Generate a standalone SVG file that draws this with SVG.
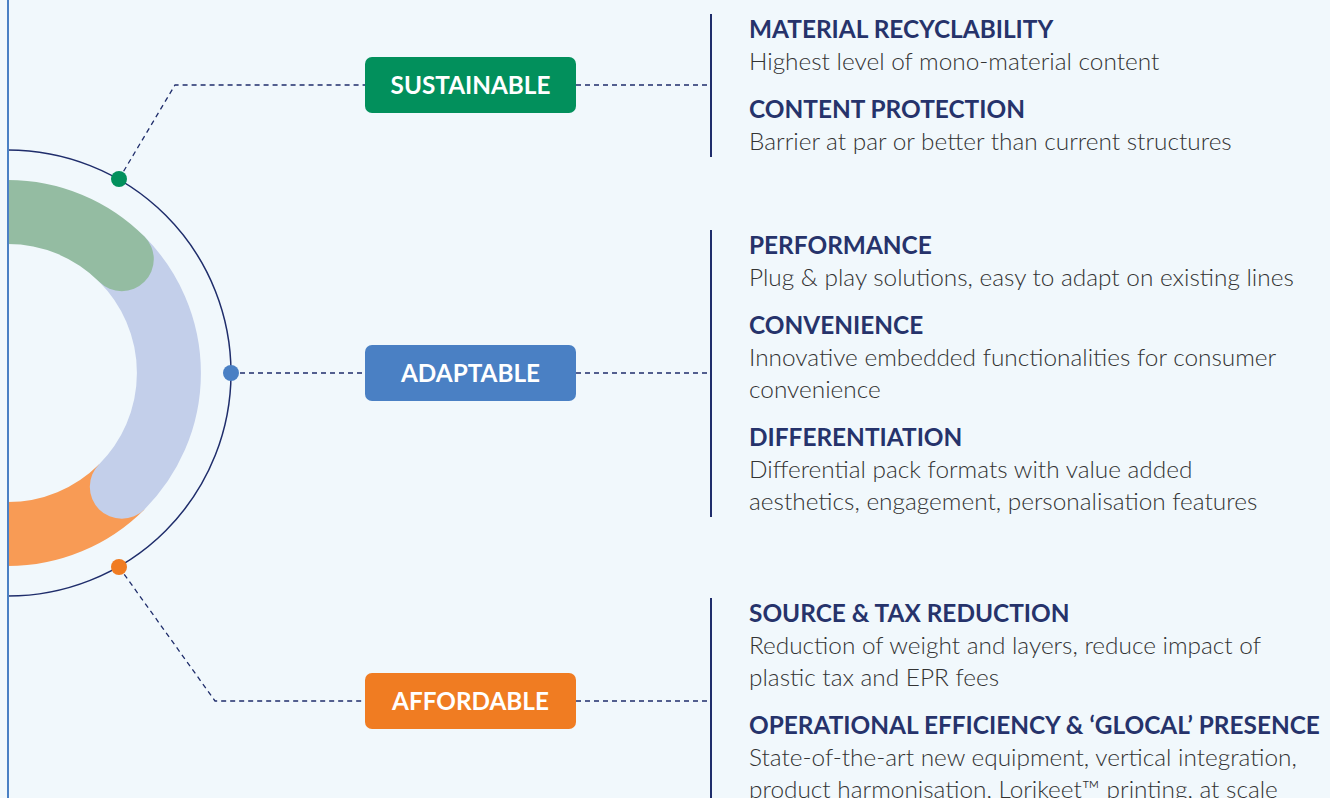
<svg xmlns="http://www.w3.org/2000/svg" width="1330" height="798" viewBox="0 0 1330 798">
  <style>
    .bg { fill: #f1f8fc; }
    .ring { fill: none; stroke-width: 64; }
    .orbit { fill: none; stroke: #1f2d6b; stroke-width: 1.5; }
    .dash { fill: none; stroke: #1f2d6b; stroke-width: 1.3; stroke-dasharray: 5 4; }
    .rule { stroke: #1f2d6b; stroke-width: 2; }
    .tag { font-family: Lato, "Liberation Sans", sans-serif; font-weight: 700; font-size: 24.3px; fill: #ffffff; text-anchor: middle; }
    .head { font-family: Lato, "Liberation Sans", sans-serif; font-weight: 700; font-size: 24.4px; fill: #26336b; }
    .body { font-family: Lato, "Liberation Sans", sans-serif; font-weight: 300; font-size: 24.4px; fill: #333333; }
  </style>
  <rect class="bg" x="0" y="0" width="1330" height="798"/>

  <!-- half ring of three segments, centre (8,373) -->
  <g id="ring">
    <path class="ring" stroke="#f89b55" d="M 8 534 A 161 161 0 0 0 121.8 486.8"/>
    <path class="ring" stroke="#c3cfea" stroke-linecap="round" d="M 121.8 259.2 A 161 161 0 0 1 121.8 486.8"/>
    <path class="ring" stroke="#94bca2" stroke-linecap="round" d="M 8 212 A 161 161 0 0 1 121.8 259.2"/>
    <rect class="bg" x="-60" y="100" width="67" height="520"/>
    <path class="orbit" d="M 8 150 A 223 223 0 0 1 8 596"/>
  </g>

  <line x1="8" y1="0" x2="8" y2="798" stroke="#4a80c4" stroke-width="2"/>

  <g id="connectors">
    <polyline class="dash" points="119,179 175,85 365,85"/>
    <line class="dash" x1="576" y1="85" x2="711" y2="85"/>
    <line class="dash" x1="231" y1="373" x2="365" y2="373"/>
    <line class="dash" x1="576" y1="373" x2="711" y2="373"/>
    <polyline class="dash" points="119,567 215,701 365,701"/>
    <line class="dash" x1="576" y1="701" x2="711" y2="701"/>
  </g>

  <g id="dots">
    <circle cx="119" cy="179" r="8" fill="#02905c"/>
    <circle cx="231" cy="373" r="8" fill="#4a80c4"/>
    <circle cx="119" cy="567" r="8" fill="#f07c22"/>
  </g>

  <g id="sustainable">
    <rect x="365" y="57" width="211" height="56" rx="7" fill="#02905c"/>
    <text class="tag" x="470.5" y="94">SUSTAINABLE</text>
  </g>
  <g id="adaptable">
    <rect x="365" y="345" width="211" height="56" rx="7" fill="#4a80c4"/>
    <text class="tag" x="470.5" y="382">ADAPTABLE</text>
  </g>
  <g id="affordable">
    <rect x="365" y="673" width="211" height="56" rx="7" fill="#f07c22"/>
    <text class="tag" x="470.5" y="710">AFFORDABLE</text>
  </g>

  <g id="sustainable-detail">
    <line class="rule" x1="711" y1="14" x2="711" y2="157"/>
    <text class="head" x="749" y="38">MATERIAL RECYCLABILITY</text>
    <text class="body" x="749" y="70">Highest level of mono-material content</text>
    <text class="head" x="749" y="118">CONTENT PROTECTION</text>
    <text class="body" x="749" y="150">Barrier at par or better than current structures</text>
  </g>

  <g id="adaptable-detail">
    <line class="rule" x1="711" y1="230" x2="711" y2="517"/>
    <text class="head" x="749" y="254">PERFORMANCE</text>
    <text class="body" x="749" y="286">Plug &amp; play solutions, easy to adapt on existing lines</text>
    <text class="head" x="749" y="334">CONVENIENCE</text>
    <text class="body" x="749" y="366">Innovative embedded functionalities for consumer</text>
    <text class="body" x="749" y="398">convenience</text>
    <text class="head" x="749" y="446">DIFFERENTIATION</text>
    <text class="body" x="749" y="478">Differential pack formats with value added</text>
    <text class="body" x="749" y="510">aesthetics, engagement, personalisation features</text>
  </g>

  <g id="affordable-detail">
    <line class="rule" x1="711" y1="598" x2="711" y2="798"/>
    <text class="head" x="749" y="622">SOURCE &amp; TAX REDUCTION</text>
    <text class="body" x="749" y="654">Reduction of weight and layers, reduce impact of</text>
    <text class="body" x="749" y="686">plastic tax and EPR fees</text>
    <text class="head" x="749" y="734">OPERATIONAL EFFICIENCY &amp; ‘GLOCAL’ PRESENCE</text>
    <text class="body" x="749" y="766">State-of-the-art new equipment, vertical integration,</text>
    <text class="body" x="749" y="798">product harmonisation, Lorikeet™ printing, at scale</text>
  </g>
</svg>
